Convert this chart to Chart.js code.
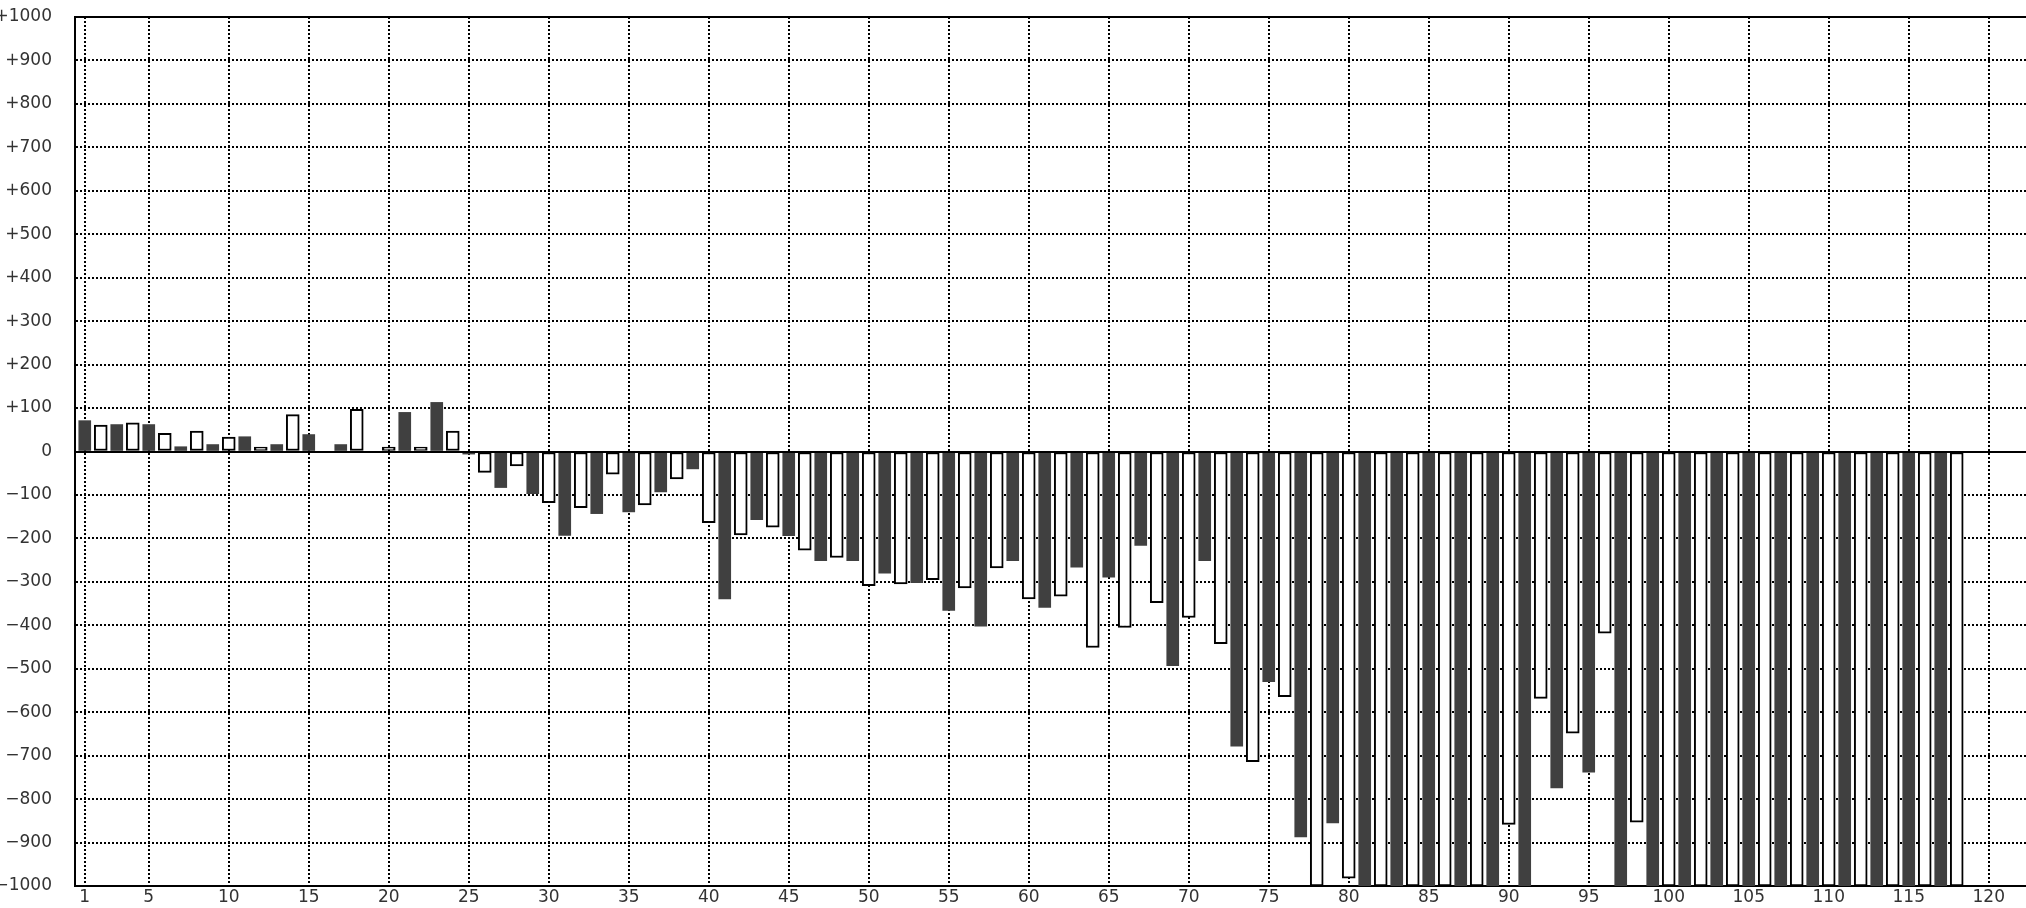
<!DOCTYPE html>
<html>
<head>
<meta charset="utf-8">
<script src="https://cdn.jsdelivr.net/npm/chart.js@4/dist/chart.umd.min.js"></script>
<style>
html,body{margin:0;padding:0;background:#fff;overflow:hidden}
#wrap{width:2026px;height:908px;position:relative}
</style>
</head>
<body>
<div id="wrap"><canvas id="c"></canvas></div>
<script>
// Bar numbers (x positions) for the two alternating series
const oddBars = [1,3,5,7,9,11,13,15,17,19,21,23,25,27,29,31,33,35,37,39,41,43,45,47,49,51,53,55,57,59,61,63,65,67,69,71,73,75,77,79,81,83,85,87,89,91,93,95,97,99,101,103,105,107,109,111,113,115,117];
const evenBars = [2,4,6,8,10,12,14,16,18,20,22,24,26,28,30,32,34,36,38,40,42,44,46,48,50,52,54,56,58,60,62,64,66,68,70,72,74,76,78,80,82,84,86,88,90,92,94,96,98,100,102,104,106,108,110,112,114,116,118];

// Values (dark filled bars at odd positions)
const oddValues = [71,62,62,11,16,34,16,39,16,0,
  90,113,-6,-83,-97,-193,-143,-139,-93,-40,
  -339,-157,-194,-251,-251,-280,-302,-366,-402,-251,
  -359,-266,-289,-216,-493,-251,-678,-530,-887,-855,
  -1000,-1000,-1000,-1000,-1000,-1000,-774,-738,-1000,-1000,
  -1000,-1000,-1000,-1000,-1000,-1000,-1000,-1000,-1000];

// Values (white outlined bars at even positions)
const evenValues = [61,66,42,47,33,10,85,0,97,10,
  10,47,-48,-33,-118,-129,-52,-123,-63,-164,
  -192,-174,-227,-244,-309,-305,-295,-314,-268,-339,
  -333,-451,-405,-348,-382,-442,-714,-564,-1000,-982,
  -1000,-1000,-1000,-1000,-858,-568,-648,-418,-853,-1000,
  -1000,-1000,-1000,-1000,-1000,-1000,-1000,-1000,-1000];

// Axis ticks
const xTickValues = [1,5,10,15,20,25,30,35,40,45,50,55,60,65,70,75,80,85,90,95,100,105,110,115,120];
const yTickValues = [1000,900,800,700,600,500,400,300,200,100,0,-100,-200,-300,-400,-500,-600,-700,-800,-900,-1000];
const yTickLabels = ['+1000','+900','+800','+700','+600','+500','+400','+300','+200','+100','0','\u2212100','\u2212200','\u2212300','\u2212400','\u2212500','\u2212600','\u2212700','\u2212800','\u2212900','\u22121000'];

const FONT = '"DejaVu Sans", sans-serif';

const framePlugin = {
  id: 'frame',
  afterDatasetsDraw(chart) {
    const {ctx, chartArea, scales} = chart;
    const y0 = scales.y.getPixelForValue(0);
    ctx.save();
    ctx.strokeStyle = '#000';
    ctx.lineWidth = 2;
    ctx.setLineDash([]);
    ctx.beginPath();
    ctx.moveTo(chartArea.left, Math.round(y0));
    ctx.lineTo(chartArea.right, Math.round(y0));
    ctx.moveTo(chartArea.left - 1, Math.round(chartArea.top));
    ctx.lineTo(chartArea.right, Math.round(chartArea.top));
    ctx.stroke();
    ctx.restore();
  }
};

new Chart(document.getElementById('c'), {
  type: 'bar',
  data: {
    datasets: [
      {
        label: 'odd',
        data: oddBars.map((b, i) => ({x: b, y: oddValues[i]})),
        backgroundColor: '#404040',
        borderWidth: 0,
        barThickness: 12,
        grouped: false
      },
      {
        label: 'even',
        data: evenBars.map((b, i) => ({x: b, y: evenValues[i]})),
        backgroundColor: '#ffffff',
        borderColor: '#000000',
        borderWidth: 2,
        borderSkipped: false,
        barThickness: 13,
        grouped: false
      }
    ]
  },
  options: {
    responsive: true,
    maintainAspectRatio: false,
    animation: false,
    devicePixelRatio: 1,
    layout: {padding: {top: 17, right: 0, left: 0, bottom: 0}},
    plugins: {legend: {display: false}, tooltip: {enabled: false}},
    scales: {
      x: {
        type: 'linear',
        offset: false,
        min: 0.39,
        max: 122.33,
        afterBuildTicks(scale) { scale.ticks = xTickValues.map(v => ({value: v})); },
        afterFit(scale) { scale.height = 22; scale.paddingLeft = 0; scale.paddingRight = 0; },
        ticks: {
          autoSkip: false,
          maxRotation: 0,
          padding: 1,
          color: '#333',
          font: {family: FONT, size: 17},
          callback: (v) => String(v)
        },
        grid: {color: '#000', lineWidth: 2, drawTicks: false, offset: false},
        border: {display: true, color: '#000', width: 2, dash: [2, 2]}
      },
      y: {
        type: 'linear',
        min: -1000,
        max: 1000,
        afterBuildTicks(scale) { scale.ticks = yTickValues.map(v => ({value: v})); },
        afterFit(scale) { scale.width = 75; scale.paddingTop = 0; scale.paddingBottom = 0; },
        ticks: {
          autoSkip: false,
          padding: 23,
          color: '#333',
          font: {family: FONT, size: 17},
          callback: (v) => yTickLabels[yTickValues.indexOf(v)]
        },
        grid: {color: '#000', lineWidth: 2, drawTicks: false},
        border: {display: true, color: '#000', width: 2, dash: [2, 2]}
      }
    }
  },
  plugins: [framePlugin]
});
</script>
</body>
</html>
